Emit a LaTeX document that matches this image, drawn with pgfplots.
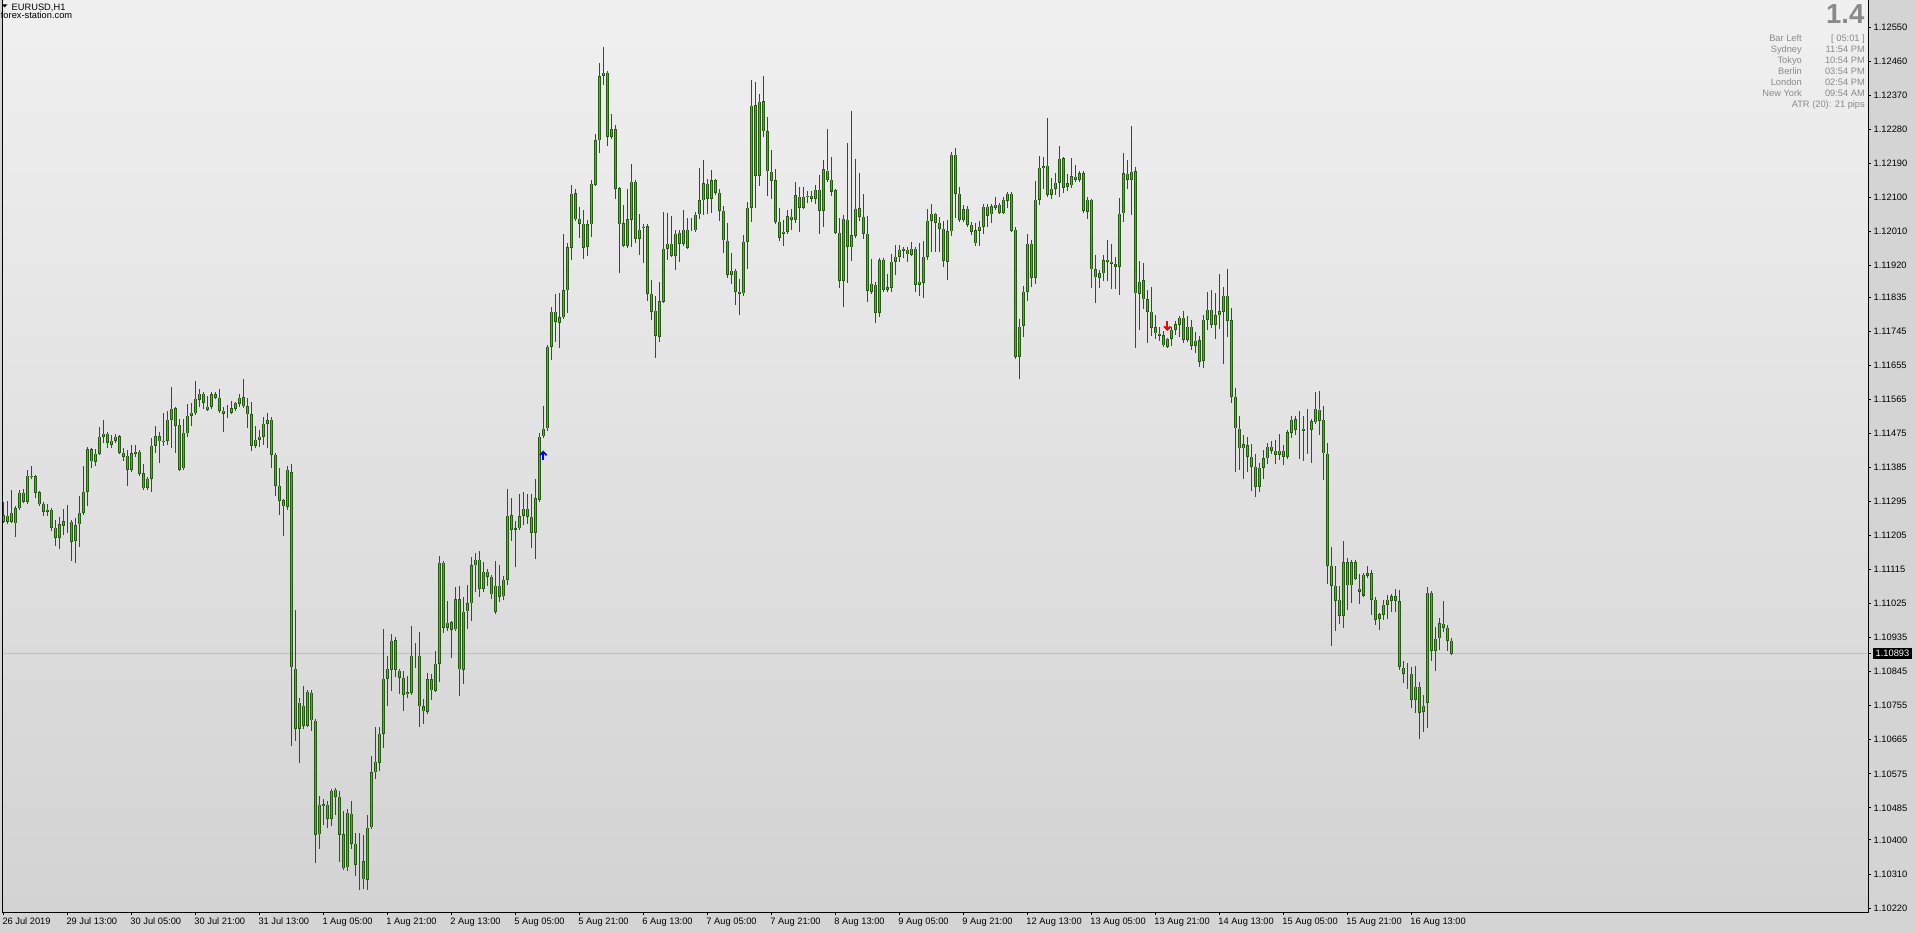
\documentclass[border=0pt]{standalone}
\usepackage{pgfplots}
\pgfplotsset{compat=1.18}
\usepackage{pgfplotstable}
\usepackage{fontspec}
\setmainfont{Liberation Sans}
\definecolor{bgout}{HTML}{D4D4D4}
\definecolor{bgtop}{HTML}{F0F0F0}
\definecolor{bgbot}{HTML}{D3D3D3}
\definecolor{wick}{HTML}{245A12}
\definecolor{bull}{HTML}{34C234}
\definecolor{bear}{HTML}{E2603F}
\definecolor{infogray}{HTML}{8A8A8A}
\definecolor{pline}{HTML}{C0C0C0}
\newcommand\mtf{\fontsize{9.3pt}{11pt}\selectfont}
\pgfdeclareplotmark{sigup}{%
  \pgfsetlinewidth{1.8pt}%
  \pgfpathmoveto{\pgfqpoint{-3.3pt}{0.6pt}}\pgfpathlineto{\pgfqpoint{0pt}{4pt}}\pgfpathlineto{\pgfqpoint{3.3pt}{0.6pt}}\pgfusepathqstroke
  \pgfpathmoveto{\pgfqpoint{0pt}{3.6pt}}\pgfpathlineto{\pgfqpoint{0pt}{-4.6pt}}\pgfusepathqstroke}
\pgfdeclareplotmark{sigdown}{%
  \pgfsetlinewidth{1.8pt}%
  \pgfpathmoveto{\pgfqpoint{-3.3pt}{-0.6pt}}\pgfpathlineto{\pgfqpoint{0pt}{-4pt}}\pgfpathlineto{\pgfqpoint{3.3pt}{-0.6pt}}\pgfusepathqstroke
  \pgfpathmoveto{\pgfqpoint{0pt}{-3.6pt}}\pgfpathlineto{\pgfqpoint{0pt}{4.6pt}}\pgfusepathqstroke}
\pgfplotsset{candle/.style={draw=none, mark=none, forget plot}}
\pgfplotstableread{
o h l c
1.11242 1.11295 1.11238 1.11259
1.11257 1.11297 1.11236 1.11243
1.11242 1.11326 1.11240 1.11266
1.11238 1.11283 1.11202 1.11278
1.11277 1.11326 1.11275 1.11319
1.11319 1.11327 1.11292 1.11295
1.11295 1.11379 1.11290 1.11364
1.11361 1.11389 1.11354 1.11364
1.11362 1.11365 1.11305 1.11319
1.11320 1.11323 1.11286 1.11288
1.11290 1.11292 1.11258 1.11268
1.11268 1.11289 1.11258 1.11275
1.11275 1.11276 1.11218 1.11227
1.11227 1.11246 1.11178 1.11200
1.11200 1.11253 1.11170 1.11235
1.11232 1.11275 1.11207 1.11243
1.11243 1.11286 1.11213 1.11243
1.11243 1.11243 1.11139 1.11189
1.11193 1.11252 1.11132 1.11233
1.11235 1.11310 1.11176 1.11266
1.11265 1.11389 1.11260 1.11322
1.11321 1.11439 1.11282 1.11433
1.11433 1.11435 1.11383 1.11401
1.11401 1.11433 1.11390 1.11423
1.11422 1.11493 1.11420 1.11468
1.11467 1.11511 1.11449 1.11476
1.11476 1.11480 1.11436 1.11451
1.11446 1.11471 1.11436 1.11457
1.11456 1.11474 1.11454 1.11468
1.11468 1.11469 1.11421 1.11424
1.11425 1.11436 1.11403 1.11414
1.11417 1.11431 1.11335 1.11380
1.11380 1.11445 1.11374 1.11423
1.11423 1.11445 1.11412 1.11428
1.11428 1.11431 1.11365 1.11368
1.11370 1.11395 1.11330 1.11330
1.11332 1.11359 1.11329 1.11357
1.11356 1.11462 1.11321 1.11442
1.11443 1.11495 1.11423 1.11468
1.11468 1.11480 1.11396 1.11455
1.11454 1.11528 1.11442 1.11457
1.11457 1.11535 1.11445 1.11513
1.11513 1.11599 1.11436 1.11542
1.11542 1.11544 1.11423 1.11496
1.11498 1.11513 1.11379 1.11380
1.11383 1.11513 1.11380 1.11478
1.11476 1.11553 1.11465 1.11523
1.11523 1.11557 1.11496 1.11531
1.11529 1.11615 1.11528 1.11568
1.11565 1.11593 1.11544 1.11581
1.11581 1.11583 1.11539 1.11557
1.11539 1.11574 1.11537 1.11547
1.11546 1.11585 1.11539 1.11579
1.11579 1.11586 1.11566 1.11570
1.11571 1.11593 1.11535 1.11536
1.11536 1.11546 1.11480 1.11528
1.11530 1.11550 1.11517 1.11530
1.11531 1.11561 1.11526 1.11542
1.11542 1.11559 1.11535 1.11556
1.11555 1.11579 1.11546 1.11571
1.11571 1.11619 1.11546 1.11547
1.11547 1.11568 1.11489 1.11526
1.11526 1.11558 1.11430 1.11443
1.11443 1.11495 1.11436 1.11460
1.11459 1.11483 1.11440 1.11468
1.11467 1.11518 1.11445 1.11502
1.11501 1.11528 1.11436 1.11510
1.11513 1.11518 1.11385 1.11420
1.11420 1.11420 1.11311 1.11337
1.11338 1.11383 1.11260 1.11297
1.11298 1.11298 1.11205 1.11282
1.11282 1.11389 1.11274 1.11379
1.11372 1.11394 1.10649 1.10857
1.10854 1.11008 1.10663 1.10694
1.10694 1.10776 1.10603 1.10765
1.10756 1.10807 1.10694 1.10703
1.10703 1.10795 1.10701 1.10793
1.10790 1.10797 1.10689 1.10717
1.10717 1.10719 1.10338 1.10415
1.10415 1.10516 1.10377 1.10494
1.10491 1.10508 1.10440 1.10495
1.10456 1.10504 1.10431 1.10494
1.10457 1.10535 1.10437 1.10532
1.10534 1.10537 1.10466 1.10515
1.10515 1.10529 1.10342 1.10414
1.10415 1.10477 1.10325 1.10325
1.10328 1.10482 1.10319 1.10473
1.10470 1.10503 1.10376 1.10391
1.10391 1.10418 1.10306 1.10336
1.10339 1.10418 1.10268 1.10339
1.10344 1.10413 1.10271 1.10296
1.10296 1.10466 1.10268 1.10434
1.10434 1.10622 1.10434 1.10579
1.10579 1.10700 1.10561 1.10608
1.10605 1.10700 1.10582 1.10682
1.10682 1.10958 1.10644 1.10828
1.10828 1.10887 1.10755 1.10854
1.10851 1.10945 1.10795 1.10928
1.10928 1.10937 1.10830 1.10850
1.10847 1.10852 1.10786 1.10830
1.10830 1.10848 1.10742 1.10785
1.10785 1.10834 1.10775 1.10791
1.10790 1.10966 1.10783 1.10888
1.10889 1.10921 1.10856 1.10889
1.10888 1.10950 1.10700 1.10754
1.10754 1.10773 1.10707 1.10740
1.10740 1.10841 1.10733 1.10825
1.10825 1.10839 1.10771 1.10796
1.10796 1.10901 1.10792 1.10867
1.10867 1.11151 1.10819 1.11134
1.11134 1.11134 1.10948 1.10962
1.10962 1.11032 1.10954 1.10976
1.10976 1.10979 1.10882 1.10957
1.10957 1.11069 1.10957 1.11037
1.11037 1.11072 1.10782 1.10851
1.10851 1.11043 1.10813 1.11005
1.11005 1.11074 1.10957 1.11026
1.11026 1.11149 1.10980 1.11127
1.11127 1.11158 1.11055 1.11142
1.11142 1.11164 1.11042 1.11065
1.11065 1.11134 1.11056 1.11110
1.11110 1.11117 1.11072 1.11097
1.11097 1.11100 1.11038 1.11050
1.11005 1.11139 1.10998 1.11074
1.11074 1.11127 1.11030 1.11045
1.11045 1.11097 1.11035 1.11088
1.11088 1.11329 1.11075 1.11259
1.11259 1.11304 1.11191 1.11221
1.11222 1.11243 1.11121 1.11224
1.11224 1.11315 1.11222 1.11256
1.11259 1.11321 1.11232 1.11277
1.11277 1.11314 1.11236 1.11256
1.11256 1.11314 1.11171 1.11213
1.11213 1.11355 1.11142 1.11304
1.11300 1.11477 1.11300 1.11468
1.11468 1.11548 1.11468 1.11488
1.11489 1.11707 1.11482 1.11705
1.11705 1.11810 1.11669 1.11798
1.11798 1.11844 1.11717 1.11772
1.11769 1.11846 1.11702 1.11783
1.11783 1.12003 1.11783 1.11854
1.11854 1.11978 1.11794 1.11968
1.11967 1.12132 1.11935 1.12110
1.12110 1.12122 1.12039 1.12042
1.12044 1.12074 1.11992 1.12030
1.12031 1.12067 1.11937 1.11967
1.11969 1.12040 1.11945 1.12029
1.12029 1.12145 1.11995 1.12135
1.12133 1.12267 1.12131 1.12251
1.12251 1.12455 1.12218 1.12420
1.12422 1.12498 1.12397 1.12430
1.12430 1.12430 1.12236 1.12260
1.12260 1.12320 1.12253 1.12280
1.12280 1.12291 1.12095 1.12122
1.12124 1.12127 1.11899 1.12029
1.12031 1.12079 1.11967 1.11971
1.11971 1.12122 1.11969 1.12042
1.12042 1.12188 1.11969 1.12142
1.12142 1.12145 1.11980 1.11990
1.11990 1.12056 1.11948 1.12015
1.12018 1.12029 1.11926 1.12023
1.12023 1.12029 1.11826 1.11845
1.11845 1.11881 1.11774 1.11797
1.11801 1.11839 1.11676 1.11734
1.11732 1.11876 1.11718 1.11825
1.11825 1.12061 1.11825 1.11965
1.11965 1.12057 1.11934 1.11978
1.11978 1.12050 1.11943 1.11945
1.11945 1.12013 1.11908 1.12004
1.12007 1.12013 1.11929 1.11978
1.11978 1.12066 1.11972 1.12015
1.11967 1.12045 1.11965 1.12015
1.12015 1.12044 1.12011 1.12015
1.12013 1.12061 1.12008 1.12055
1.12055 1.12177 1.12042 1.12092
1.12092 1.12198 1.12053 1.12137
1.12137 1.12148 1.12056 1.12096
1.12096 1.12172 1.12059 1.12145
1.12145 1.12148 1.12106 1.12112
1.12113 1.12121 1.12037 1.12065
1.12065 1.12077 1.11953 1.11986
1.11986 1.12032 1.11887 1.11896
1.11896 1.11952 1.11870 1.11907
1.11907 1.11908 1.11815 1.11850
1.11850 1.11884 1.11789 1.11846
1.11846 1.12000 1.11840 1.11983
1.11983 1.12087 1.11910 1.12073
1.12073 1.12410 1.12035 1.12343
1.12343 1.12406 1.12072 1.12157
1.12157 1.12373 1.12130 1.12354
1.12354 1.12421 1.12260 1.12274
1.12274 1.12312 1.12103 1.12168
1.12168 1.12226 1.12096 1.12144
1.12145 1.12175 1.12028 1.12035
1.12035 1.12071 1.11985 1.11994
1.12004 1.12040 1.11972 1.12010
1.12008 1.12066 1.12004 1.12049
1.12049 1.12069 1.12013 1.12041
1.12041 1.12140 1.12033 1.12105
1.12102 1.12128 1.12009 1.12073
1.12073 1.12127 1.12072 1.12101
1.12101 1.12116 1.12084 1.12105
1.12105 1.12116 1.12086 1.12097
1.12097 1.12132 1.12083 1.12121
1.12121 1.12159 1.12004 1.12064
1.12064 1.12198 1.12022 1.12174
1.12172 1.12280 1.12141 1.12147
1.12147 1.12206 1.12104 1.12117
1.12119 1.12121 1.12007 1.12007
1.12007 1.12044 1.11859 1.11879
1.11879 1.12053 1.11810 1.12044
1.12041 1.12243 1.11874 1.11969
1.11967 1.12328 1.11932 1.11999
1.11998 1.12201 1.11998 1.12071
1.12071 1.12164 1.12037 1.12048
1.12049 1.12108 1.11989 1.12004
1.12004 1.12050 1.11824 1.11853
1.11850 1.11936 1.11850 1.11872
1.11869 1.11875 1.11768 1.11795
1.11795 1.11939 1.11782 1.11933
1.11935 1.11938 1.11853 1.11855
1.11855 1.11897 1.11853 1.11862
1.11861 1.11950 1.11850 1.11930
1.11929 1.11974 1.11894 1.11944
1.11944 1.11974 1.11929 1.11963
1.11961 1.11969 1.11938 1.11964
1.11962 1.11969 1.11929 1.11949
1.11949 1.11982 1.11947 1.11964
1.11964 1.11967 1.11850 1.11868
1.11868 1.11979 1.11840 1.11876
1.11874 1.11985 1.11834 1.11944
1.11943 1.12069 1.11934 1.12039
1.12038 1.12083 1.11956 1.12056
1.12056 1.12059 1.11956 1.12034
1.12034 1.12048 1.11954 1.12018
1.12018 1.12037 1.11915 1.11932
1.11929 1.12041 1.11882 1.12010
1.12010 1.12219 1.11998 1.12213
1.12213 1.12230 1.12046 1.12109
1.12110 1.12127 1.12035 1.12040
1.12041 1.12079 1.12035 1.12068
1.12071 1.12077 1.12027 1.12027
1.12028 1.12035 1.12000 1.12009
1.11978 1.12031 1.11971 1.12012
1.12012 1.12037 1.11972 1.12023
1.12023 1.12081 1.12003 1.12076
1.12076 1.12082 1.12020 1.12051
1.12055 1.12081 1.12033 1.12076
1.12072 1.12100 1.12066 1.12081
1.12081 1.12085 1.12060 1.12060
1.12060 1.12100 1.12060 1.12094
1.12091 1.12115 1.12072 1.12110
1.12110 1.12110 1.12011 1.12013
1.12015 1.12020 1.11674 1.11678
1.11678 1.11777 1.11619 1.11759
1.11760 1.11865 1.11729 1.11851
1.11850 1.12002 1.11826 1.11978
1.11978 1.11987 1.11863 1.11887
1.11887 1.12143 1.11871 1.12094
1.12094 1.12209 1.12080 1.12179
1.12182 1.12206 1.12122 1.12179
1.12184 1.12310 1.12104 1.12107
1.12107 1.12150 1.12095 1.12123
1.12123 1.12164 1.12107 1.12139
1.12139 1.12235 1.12101 1.12203
1.12203 1.12203 1.12111 1.12126
1.12128 1.12161 1.12117 1.12137
1.12131 1.12204 1.12125 1.12155
1.12155 1.12185 1.12139 1.12147
1.12147 1.12169 1.12141 1.12164
1.12164 1.12169 1.12059 1.12064
1.12062 1.12100 1.12043 1.12093
1.12093 1.12094 1.11861 1.11910
1.11910 1.11947 1.11819 1.11888
1.11887 1.11907 1.11861 1.11899
1.11899 1.11947 1.11878 1.11933
1.11930 1.11987 1.11878 1.11934
1.11931 1.11976 1.11858 1.11924
1.11923 1.11942 1.11858 1.11916
1.11916 1.12098 1.11842 1.12057
1.12057 1.12217 1.12035 1.12163
1.12163 1.12198 1.12122 1.12147
1.12147 1.12288 1.12053 1.12168
1.12169 1.12180 1.11702 1.11846
1.11846 1.11930 1.11749 1.11878
1.11881 1.11925 1.11804 1.11830
1.11830 1.11855 1.11715 1.11797
1.11797 1.11862 1.11734 1.11756
1.11756 1.11788 1.11725 1.11740
1.11740 1.11756 1.11720 1.11734
1.11735 1.11746 1.11709 1.11709
1.11705 1.11725 1.11702 1.11725
1.11725 1.11758 1.11707 1.11750
1.11750 1.11773 1.11735 1.11764
1.11764 1.11786 1.11731 1.11783
1.11783 1.11799 1.11715 1.11724
1.11724 1.11786 1.11716 1.11757
1.11757 1.11775 1.11696 1.11708
1.11708 1.11744 1.11689 1.11720
1.11722 1.11733 1.11651 1.11665
1.11668 1.11788 1.11649 1.11777
1.11777 1.11849 1.11750 1.11802
1.11802 1.11855 1.11753 1.11763
1.11763 1.11846 1.11726 1.11788
1.11788 1.11897 1.11752 1.11799
1.11798 1.11863 1.11660 1.11839
1.11839 1.11910 1.11731 1.11774
1.11774 1.11807 1.11557 1.11572
1.11572 1.11595 1.11372 1.11489
1.11487 1.11521 1.11379 1.11436
1.11436 1.11470 1.11356 1.11447
1.11444 1.11465 1.11373 1.11414
1.11414 1.11447 1.11324 1.11387
1.11387 1.11421 1.11308 1.11334
1.11334 1.11397 1.11321 1.11386
1.11386 1.11431 1.11356 1.11410
1.11410 1.11449 1.11394 1.11440
1.11441 1.11454 1.11421 1.11430
1.11430 1.11458 1.11394 1.11419
1.11419 1.11474 1.11406 1.11431
1.11431 1.11444 1.11393 1.11414
1.11414 1.11484 1.11407 1.11478
1.11478 1.11521 1.11464 1.11513
1.11513 1.11521 1.11471 1.11486
1.11486 1.11535 1.11407 1.11486
1.11487 1.11521 1.11403 1.11483
1.11483 1.11540 1.11422 1.11483
1.11485 1.11514 1.11398 1.11508
1.11505 1.11586 1.11500 1.11540
1.11540 1.11588 1.11471 1.11509
1.11511 1.11548 1.11353 1.11423
1.11423 1.11449 1.11077 1.11125
1.11125 1.11175 1.10914 1.11073
1.11074 1.11125 1.10954 1.11034
1.11036 1.11072 1.10970 1.10994
1.10994 1.11191 1.10961 1.11135
1.11135 1.11146 1.11009 1.11074
1.11074 1.11141 1.11028 1.11135
1.11135 1.11140 1.11087 1.11092
1.11066 1.11103 1.11025 1.11058
1.11048 1.11107 1.11045 1.11101
1.11099 1.11125 1.11094 1.11106
1.11106 1.11114 1.10995 1.11036
1.11036 1.11043 1.10968 1.10984
1.10986 1.11001 1.10955 1.10997
1.10997 1.11035 1.10982 1.11024
1.11023 1.11047 1.10984 1.11035
1.11033 1.11051 1.11004 1.11045
1.11045 1.11064 1.11004 1.11033
1.11032 1.11061 1.10850 1.10858
1.10857 1.10873 1.10816 1.10840
1.10841 1.10869 1.10798 1.10841
1.10841 1.10857 1.10749 1.10771
1.10771 1.10861 1.10735 1.10806
1.10806 1.10818 1.10666 1.10738
1.10739 1.10783 1.10686 1.10756
1.10764 1.11070 1.10695 1.11055
1.11055 1.11058 1.10873 1.10901
1.10901 1.10964 1.10848 1.10933
1.10933 1.10987 1.10902 1.10973
1.10973 1.11033 1.10949 1.10962
1.10962 1.10969 1.10900 1.10927
1.10927 1.10935 1.10891 1.10893
}\ohlc
\begin{document}
\begin{tikzpicture}[x=1pt,y=1pt]
\useasboundingbox (0,0) rectangle (1916,933);
\fill[bgout] (0,0) rectangle (1916,933);
\begin{axis}[
  at={(2.5pt,20.5pt)}, anchor=south west,
  scale only axis, width=1866pt, height=912.5pt,
  xmin=-0.2, xmax=466.3, ymin=1.102082, ymax=1.126216,
  clip=false,
  axis background/.style={shade, top color=bgtop, bottom color=bgbot},
  axis line style={draw=none},
  tick align=outside, major tick length=3pt,
  tick style={black, line width=1pt},
  xtick pos=left, ytick pos=right,
  xticklabel pos=left, yticklabel pos=right,
  xtick={0,16,...,352},
  xticklabels={26 Jul 2019,29 Jul 13:00,30 Jul 05:00,30 Jul 21:00,31 Jul 13:00,1 Aug 05:00,1 Aug 21:00,2 Aug 13:00,5 Aug 05:00,5 Aug 21:00,6 Aug 13:00,7 Aug 05:00,7 Aug 21:00,8 Aug 13:00,9 Aug 05:00,9 Aug 21:00,12 Aug 13:00,13 Aug 05:00,13 Aug 21:00,14 Aug 13:00,15 Aug 05:00,15 Aug 21:00,16 Aug 13:00},
  ytick={1.1255,1.1246,1.1237,1.1228,1.1219,1.121,1.1201,1.1192,1.11835,1.11745,1.11655,1.11565,1.11475,1.11385,1.11295,1.11205,1.11115,1.11025,1.10935,1.10845,1.10755,1.10665,1.10575,1.10485,1.104,1.1031,1.1022},
  yticklabels={1.12550,1.12460,1.12370,1.12280,1.12190,1.12100,1.12010,1.11920,1.11835,1.11745,1.11655,1.11565,1.11475,1.11385,1.11295,1.11205,1.11115,1.11025,1.10935,1.10845,1.10755,1.10665,1.10575,1.10485,1.10400,1.10310,1.10220},
  xticklabel style={anchor=north west, inner sep=0pt, font=\mtf, xshift=-1pt, yshift=-2pt},
  yticklabel style={anchor=west, inner sep=0pt, font=\mtf, xshift=2pt},
  extra y ticks={1.10893},
  extra y tick labels={1.10893},
  extra y tick style={yticklabel style={fill=black, text=white, inner xsep=3pt, inner ysep=2.5pt, xshift=-1pt}},
]
\addplot[forget plot, color=pline, line width=1pt] coordinates {(-0.2,1.10893) (466.3,1.10893)};
% wicks
\addplot[candle,
  error bars/.cd, y dir=plus, y explicit, error mark=none,
  error bar style={line width=1pt, draw=wick}]
  table[x expr=\coordindex, y=l, y error expr={\thisrow{h}-\thisrow{l}}] {\ohlc};
% body frame
\addplot[candle,
  error bars/.cd, y dir=both, y explicit, error mark=-,
  error bar style={line width=3pt, draw=wick},
  error mark options={line width=1pt, draw=wick, mark size=1.5pt}]
  table[x expr=\coordindex, y expr={(\thisrow{o}+\thisrow{c})/2}, y error expr={abs(\thisrow{c}-\thisrow{o})/2}] {\ohlc};
% bull fill
\addplot[candle,
  error bars/.cd, y dir=plus, y explicit, error mark=none,
  error bar style={line width=1pt, draw=bull, shorten <=0.5pt, shorten >=0.5pt}]
  table[x expr=\coordindex, y expr={(\thisrow{c}-\thisrow{o}>0.000025) ? \thisrow{o} : nan}, y error expr={\thisrow{c}-\thisrow{o}}] {\ohlc};
% bear fill
\addplot[candle,
  error bars/.cd, y dir=plus, y explicit, error mark=none,
  error bar style={line width=1pt, draw=bear, shorten <=0.5pt, shorten >=0.5pt}]
  table[x expr=\coordindex, y expr={(\thisrow{o}-\thisrow{c}>0.000025) ? \thisrow{c} : nan}, y error expr={\thisrow{o}-\thisrow{c}}] {\ohlc};
% signal arrows
\addplot[only marks, mark=sigup, color=blue, forget plot] coordinates {(135,1.11416)};
\addplot[only marks, mark=sigdown, color=red, forget plot] coordinates {(291,1.11760)};
\draw[black, line width=1pt] (rel axis cs:0,1) -- (rel axis cs:0,0) -- (rel axis cs:1,0) -- (rel axis cs:1,1);
\end{axis}
% top-left title
\fill[black] (2,928.6) -- (7.4,928.6) -- (4.7,925.6) -- cycle;
\node[anchor=base west, inner sep=0pt, font=\mtf] at (11.5,922.3) {EURUSD,H1};
\node[anchor=base west, inner sep=0pt, font=\mtf] at (0.7,914.2) {forex-station.com};
% top-right info
\node[anchor=base east, inner sep=0pt, text=infogray, font=\fontsize{27.5pt}{30pt}\selectfont\bfseries] at (1864.5,909.7) {1.4};
\begin{scope}[every node/.style={inner sep=0pt, text=infogray, font=\mtf}]
\node[anchor=base east] at (1802,891.2) {Bar Left};
\node[anchor=base east] at (1802,880.3) {Sydney};
\node[anchor=base east] at (1802,869.5) {Tokyo};
\node[anchor=base east] at (1802,858.6) {Berlin};
\node[anchor=base east] at (1802,847.7) {London};
\node[anchor=base east] at (1802,836.8) {New York};
\node[anchor=base east] at (1865,891.2) {[ 05:01 ]};
\node[anchor=base east] at (1865,880.3) {11:54 PM};
\node[anchor=base east] at (1865,869.5) {10:54 PM};
\node[anchor=base east] at (1865,858.6) {03:54 PM};
\node[anchor=base east] at (1865,847.7) {02:54 PM};
\node[anchor=base east] at (1865,836.8) {09:54 AM};
\node[anchor=base east] at (1865,825.4) {ATR (20): 21 pips};
\end{scope}
\end{tikzpicture}
\end{document}
